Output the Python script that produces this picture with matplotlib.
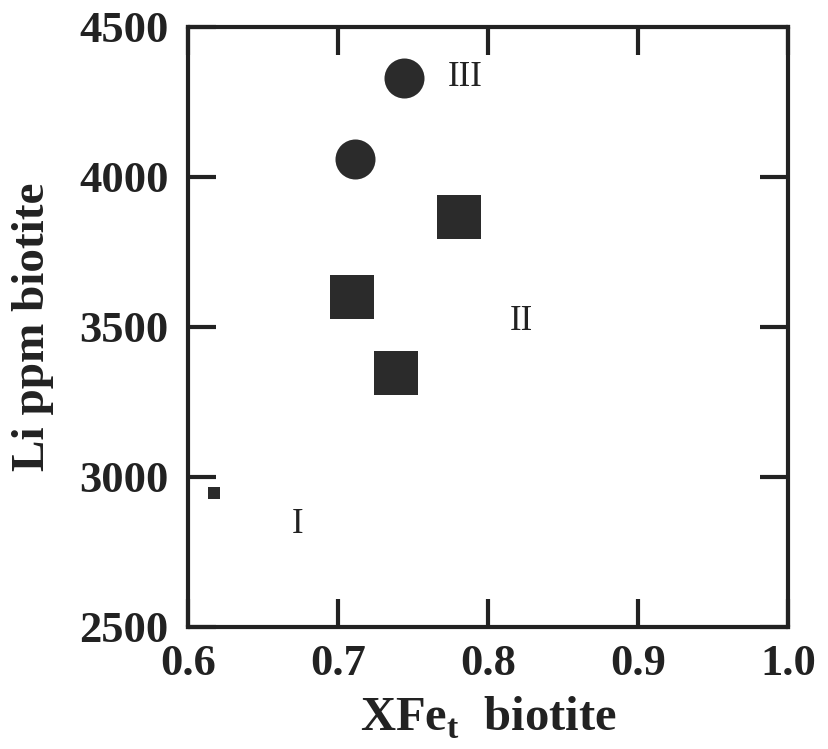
import matplotlib.pyplot as plt

# data
circle_x = [0.744, 0.711]
circle_li = [4330, 4060]
square_x = [0.781, 0.709, 0.739]
square_li = [3867, 3600, 3347]
small_x = [0.617]
small_li = [2947]

group_labels = ["III", "II", "I"]
group_x = [0.785, 0.822, 0.673]
group_li = [4330, 3517, 2840]

xticks = [0.6, 0.7, 0.8, 0.9, 1.0]
yticks = [2500, 3000, 3500, 4000, 4500]

plt.rcParams['font.family'] = ['Liberation Serif', 'DejaVu Serif']
plt.rcParams['mathtext.fontset'] = 'custom'
plt.rcParams['mathtext.rm'] = 'Liberation Serif:bold'
plt.rcParams['mathtext.bf'] = 'Liberation Serif:bold'

fig = plt.figure(figsize=(8.29, 7.49), dpi=100)
ax = fig.add_axes([0.2268, 0.1629, 0.7237, 0.8011])

mark = '#2b2b2b'
ax.scatter(circle_x, circle_li, s=830, marker='o', color=mark, linewidths=0)
ax.scatter(square_x, square_li, s=960, marker='s', color=mark, linewidths=0)
ax.scatter(small_x, small_li, s=75, marker='s', color=mark, linewidths=0)

for lab, x, y in zip(group_labels, group_x, group_li):
    ax.text(x, y, lab, fontsize=25, ha='center', va='center', color='#222222')

ax.set_xlim(0.6, 1.0)
ax.set_ylim(2500, 4500)
ax.set_xticks(xticks)
ax.set_yticks(yticks)
ax.set_xticklabels([f"{v:.1f}" for v in xticks])
ax.set_yticklabels([str(v) for v in yticks])

for sp in ax.spines.values():
    sp.set_linewidth(3)
    sp.set_color('#222222')

ax.tick_params(direction='in', length=20, width=3, top=True, right=True,
               labelsize=32, colors='#222222')
ax.tick_params(axis='x', pad=12)
ax.tick_params(axis='y', pad=14)
for lbl in ax.get_xticklabels() + ax.get_yticklabels():
    lbl.set_fontweight('bold')

ax.set_xlabel("XFe$_{\\mathbf{t}}$  biotite", fontsize=35, fontweight='bold',
              color='#222222', labelpad=8)
ax.set_ylabel("Li ppm biotite", fontsize=34, fontweight='bold',
              color='#222222', labelpad=18)

fig.savefig("out.png", dpi=100)
